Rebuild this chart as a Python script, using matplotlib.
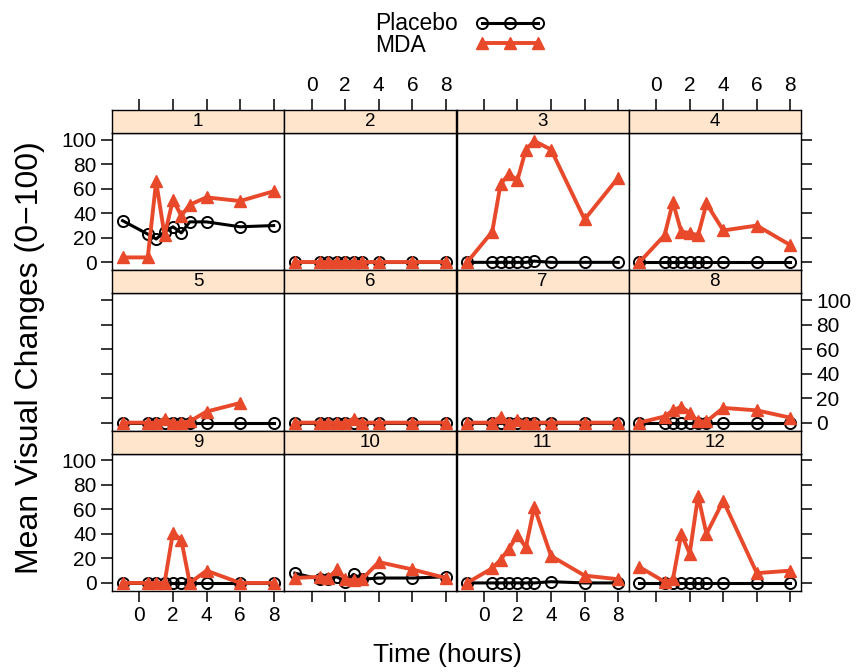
import matplotlib
matplotlib.use('Agg')
import matplotlib.pyplot as plt
from matplotlib.lines import Line2D

plt.rcParams['font.family'] = ['Liberation Sans', 'DejaVu Sans']

times = [-1, 0.5, 1, 1.5, 2, 2.5, 3, 4, 6, 8]
subjects = ['1', '2', '3', '4', '5', '6', '7', '8', '9', '10', '11', '12']

# mean visual change per subject, one row per subject
placebo = [
    [34, 23, 19, 25, 29, 24, 33, 33, 29, 30],
    [0, 0, 0, 0, 0, 0, 0, 0, 0, 0],
    [0, 0, 0, 0, 0, 0, 1, 0, 0, 0],
    [0, 0, 0, 0, 0, 0, 0, 0, 0, 0],
    [0, 0, 0, 0, 0, 0, 0, 0, 0, 0],
    [0, 0, 0, 0, 0, 0, 0, 0, 0, 0],
    [0, 0, 0, 0, 0, 0, 0, 0, 0, 0],
    [0, 0, 0, 0, 0, 0, 0, 0, 0, 0],
    [0, 0, 0, 0, 0, 0, 0, 0, 0, 0],
    [8, 3, 3, 5, 1, 7, 3, 4, 4, 5],
    [0, 0, 0, 0, 0, 0, 0, 1, 0, 0],
    [0, 0, 0, 0, 0, 0, 0, 0, 0, 0],
]
# subject 5 has no 8 h reading
mda = [
    [4, 4, 66, 22, 51, 38, 47, 53, 50, 58],
    [0, 0, 0, 0, 0, 0, 0, 0, 0, 0],
    [0, 25, 64, 72, 67, 92, 99, 92, 35, 69],
    [0, 22, 49, 25, 24, 22, 48, 26, 30, 14],
    [0, 0, 0, 3, 0, 0, 1, 9, 16],
    [0, 0, 0, 0, 0, 3, 0, 0, 0, 0],
    [0, 0, 5, 0, 2, 0, 0, 0, 0, 0],
    [0, 5, 10, 13, 8, 1, 1, 12, 10, 4],
    [0, 0, 0, 0, 41, 35, 0, 10, 0, 0],
    [4, 5, 4, 11, 3, 2, 3, 17, 11, 4],
    [0, 12, 19, 28, 39, 29, 62, 22, 6, 3],
    [13, 1, 3, 40, 24, 71, 40, 67, 8, 10],
]

xticks = [0, 2, 4, 6, 8]
yticks = [0, 20, 40, 60, 80, 100]

W, H = 860, 672
red = '#E9492B'
strip_col = '#FFE5CC'

fig = plt.figure(figsize=(W / 100, H / 100), dpi=100)

def box(x0, y0, w, h):
    return [x0 / W, 1 - (y0 + h) / H, w / W, h / H]

left, top = 112, 110
cw = 172.25
rh = 160.3
sh = 23

for k, subj in enumerate(subjects):
    r, c = divmod(k, 4)
    x0 = left + c * cw
    y0 = top + r * rh
    ax = fig.add_axes(box(x0, y0 + sh, cw, rh - sh))
    st = fig.add_axes(box(x0, y0, cw, sh))

    ax.plot(times, placebo[k], color='black', lw=2.2, marker='o', ms=8,
            mfc='none', mec='black', mew=1.4, zorder=3, clip_on=False)
    ax.plot(times[:len(mda[k])], mda[k], color=red, lw=2.8, marker='^', ms=9,
            mfc=red, mec=red, zorder=4, clip_on=False)
    ax.set_xlim(-1.63, 8.63)
    ax.set_ylim(-6.5, 105.5)

    for a in (ax, st):
        for s in a.spines.values():
            s.set_linewidth(1.0)
        a.tick_params(which='both', left=False, right=False, top=False,
                      bottom=False, labelleft=False, labelright=False,
                      labeltop=False, labelbottom=False)
    st.set_facecolor(strip_col)
    st.set_xlim(ax.get_xlim())
    st.set_yticks([])
    st.text(0.5, 0.5, subj, transform=st.transAxes, ha='center',
            va='center', fontsize=13.5)

    ax.set_xticks(xticks)
    ax.set_yticks(yticks)
    st.set_xticks(xticks)
    st.set_xticklabels([str(t) for t in xticks])
    ax.set_xticklabels([str(t) for t in xticks])
    ax.set_yticklabels([str(t) for t in yticks])

    tk = dict(length=8, width=1.1, direction='out', labelsize=15, pad=3)
    if c == 0:
        ax.tick_params(left=True, labelleft=(r != 1), **tk)
    if c == 3:
        ax.tick_params(right=True, labelright=(r == 1), **tk)
    if r == 2:
        ax.tick_params(bottom=True, labelbottom=(c % 2 == 0), **tk)
    if r == 0:
        st.tick_params(top=True, labeltop=(c % 2 == 1), **tk)

fig.text(447 / W, 1 - 655 / H, 'Time (hours)', ha='center', va='center',
         fontsize=19)
fig.text(30 / W, 1 - 358 / H, 'Mean Visual Changes (0\u2212100)',
         ha='center', va='center', rotation=90, fontsize=23)

# key at the top
fig.text(375 / W, 1 - 23 / H, 'Placebo', ha='left', va='center', fontsize=16.5)
fig.text(375 / W, 1 - 45 / H, 'MDA', ha='left', va='center', fontsize=16.5)
lx = [482 / W, 510 / W, 538 / W]
fig.add_artist(Line2D(lx, [1 - 22.5 / H] * 3, color='black', lw=2.2,
                      marker='o', ms=8, mfc='none', mew=1.4))
fig.add_artist(Line2D(lx, [1 - 43 / H] * 3, color=red, lw=2.8,
                      marker='^', ms=9, mfc=red, mec=red))

fig.savefig('out.png', dpi=100)
